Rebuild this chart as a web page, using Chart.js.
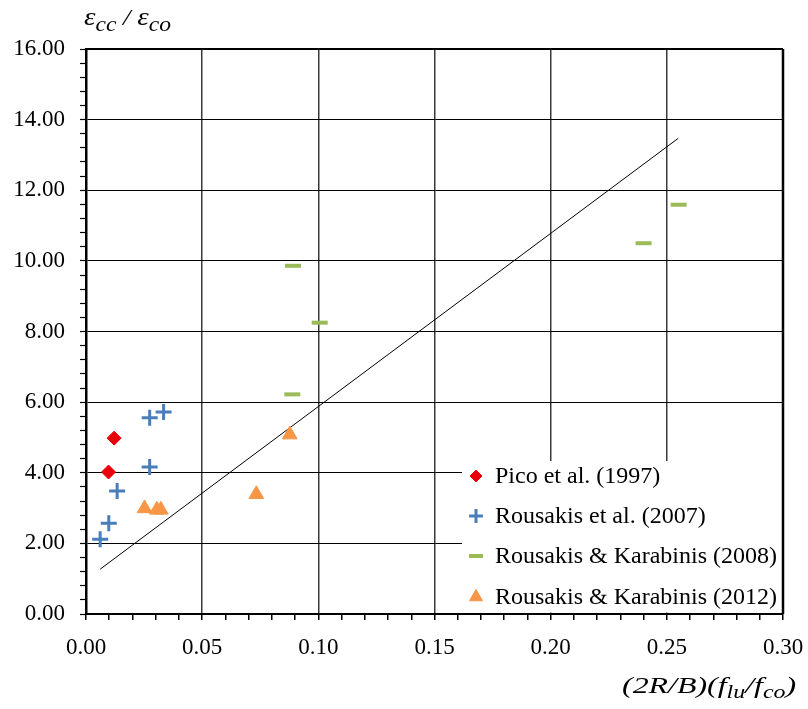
<!DOCTYPE html>
<html><head><meta charset="utf-8">
<script src="https://cdn.jsdelivr.net/npm/chart.js@4"></script>
<style>html,body{margin:0;padding:0;background:#fff;} canvas{display:block;}</style>
</head><body>
<canvas id="c" width="808" height="709"></canvas>
<script>
// ---- data ----
const picoX = [0.0097, 0.0121];
const picoY = [4.02, 4.98];
const rous07X = [0.0061, 0.0098, 0.0134, 0.0274, 0.0274, 0.0334];
const rous07Y = [2.12, 2.57, 3.48, 4.16, 5.56, 5.72];
const rk08X = [0.0888, 0.0891, 0.1006, 0.2400, 0.2551];
const rk08Y = [6.22, 9.86, 8.25, 10.50, 11.59];
const rk12X = [0.0252, 0.0305, 0.0322, 0.0733, 0.0877];
const rk12Y = [2.99, 2.95, 2.95, 3.39, 5.08];
const trendX = [0.0061, 0.2549];
const trendY = [1.27, 13.47];
const seriesNames = ['Pico et al. (1997)', 'Rousakis et al. (2007)', 'Rousakis & Karabinis (2008)', 'Rousakis & Karabinis (2012)'];
const xMin = 0, xMax = 0.30, xMajor = 0.05, xMinor = 0.01;
const yMin = 0, yMax = 16, yMajor = 2, yMinor = 0.4;

const pts = (xs, ys) => xs.map((x, i) => ({x: x, y: ys[i]}));
const FONT = "'Liberation Serif','Times New Roman',serif";

const styles = [
  {pointStyle: 'rectRot', radius: 7, color: '#E8000B', borderWidth: 1},
  {pointStyle: 'cross', radius: 8, color: '#4A7EBB', borderWidth: 3},
  {pointStyle: 'line', radius: 8, color: '#9BBB59', borderWidth: 4},
  {pointStyle: 'triangle', radius: 8.5, color: '#F79646', borderWidth: 1}
];
const seriesData = [pts(picoX, picoY), pts(rous07X, rous07Y), pts(rk08X, rk08Y), pts(rk12X, rk12Y)];

const datasets = seriesData.map((d, i) => ({
  label: seriesNames[i],
  data: d,
  pointStyle: styles[i].pointStyle,
  pointRadius: styles[i].radius,
  pointHoverRadius: styles[i].radius,
  pointBorderWidth: styles[i].borderWidth,
  borderColor: styles[i].color,
  backgroundColor: styles[i].color,
  showLine: false
}));
datasets.push({
  label: 'trend',
  data: pts(trendX, trendY),
  showLine: true,
  pointRadius: 0,
  borderColor: '#000',
  borderWidth: 1,
  fill: false
});

const isMajor = (v, step) => Math.abs(v / step - Math.round(v / step)) < 1e-6;

const decor = {
  id: 'decor',
  afterDatasetsDraw(chart) {
    const ctx = chart.ctx, a = chart.chartArea;
    ctx.save();
    // legend box
    const lx = 462, ly = 461;
    ctx.fillStyle = '#fff';
    ctx.fillRect(lx, ly, a.right - lx - 1, a.bottom - ly - 1.5);
    const rows = [476, 516, 556, 597];
    ctx.font = "24px " + FONT;
    ctx.textBaseline = 'middle';
    ctx.textAlign = 'left';
    const legR = [6, 7, 7, 7.5];
    rows.forEach((yy, i) => {
      const s = styles[i];
      ctx.fillStyle = s.color;
      ctx.strokeStyle = s.color;
      ctx.lineWidth = s.borderWidth;
      const opt = {pointStyle: s.pointStyle, radius: legR[i], rotation: 0, borderWidth: s.borderWidth};
      Chart.helpers.drawPoint(ctx, opt, 476, yy);
      ctx.fillStyle = '#000';
      ctx.fillText(seriesNames[i], 495, yy + 1);
    });
    // top and right borders
    ctx.strokeStyle = '#000';
    ctx.lineWidth = 2;
    ctx.beginPath();
    ctx.moveTo(a.left, a.top); ctx.lineTo(a.right, a.top);
    ctx.stroke();
    ctx.lineWidth = 2.5;
    ctx.beginPath();
    ctx.moveTo(a.right, a.top); ctx.lineTo(a.right, a.bottom);
    ctx.stroke();
    ctx.restore();
  },
  afterDraw(chart) {
    const ctx = chart.ctx;
    ctx.save();
    ctx.fillStyle = '#000';
    ctx.textBaseline = 'alphabetic';
    ctx.textAlign = 'left';
    function run(parts, x0, y0, sx) {
      ctx.save();
      ctx.translate(x0, y0);
      ctx.scale(sx, 1);
      let x = 0;
      parts.forEach(p => {
        ctx.font = 'italic ' + p.size + 'px ' + FONT;
        ctx.fillText(p.t, x, p.dy || 0);
        x += ctx.measureText(p.t).width + (p.gap || 0);
      });
      ctx.restore();
    }
    // y-axis title: εcc / εco
    run([
      {t: 'ε', size: 26},
      {t: 'cc', size: 21, dy: 6},
      {t: ' / ', size: 24},
      {t: 'ε', size: 26},
      {t: 'co', size: 21, dy: 6}
    ], 84, 25, 1.12);
    // x-axis title: (2R/B)(flu/fco)
    run([
      {t: '(2R/B)(', size: 24},
      {t: 'f', size: 24},
      {t: 'lu', size: 18, dy: 5},
      {t: '/', size: 24},
      {t: 'f', size: 24},
      {t: 'co', size: 18, dy: 5},
      {t: ')', size: 24}
    ], 622, 693, 1.33);
    ctx.restore();
  }
};

new Chart(document.getElementById('c'), {
  type: 'scatter',
  data: {datasets: datasets},
  options: {
    responsive: false,
    devicePixelRatio: 1,
    animation: false,
    layout: {padding: {top: 49, right: 25, left: 0, bottom: 0}},
    plugins: {legend: {display: false}, tooltip: {enabled: false}},
    scales: {
      x: {
        type: 'linear', min: xMin, max: xMax,
        afterFit(s) { s.height = 95; s.paddingLeft = 0; s.paddingRight = 0; },
        ticks: {
          stepSize: xMinor, autoSkip: false, maxRotation: 0, padding: 14,
          color: '#000', font: {family: FONT, size: 23},
          callback: v => isMajor(v, xMajor) ? v.toFixed(2) : ''
        },
        grid: {
          color: c => isMajor(c.tick.value, xMajor) ? '#3a3a3a' : 'rgba(0,0,0,0)',
          lineWidth: 1.5, tickColor: '#000', tickLength: 6, tickWidth: 1.5
        },
        border: {display: true, color: '#000', width: 2}
      },
      y: {
        type: 'linear', min: yMin, max: yMax,
        afterFit(s) { s.width = 86; s.paddingTop = 0; s.paddingBottom = 0; },
        ticks: {
          stepSize: yMinor, autoSkip: false, padding: 15,
          color: '#000', font: {family: FONT, size: 23},
          callback: v => isMajor(v, yMajor) ? v.toFixed(2) : ''
        },
        grid: {
          color: c => isMajor(c.tick.value, yMajor) ? '#000' : 'rgba(0,0,0,0)',
          lineWidth: 1, tickColor: '#000', tickLength: 6, tickWidth: 1.2
        },
        border: {display: true, color: '#000', width: 2.5}
      }
    }
  },
  plugins: [decor]
});
</script>
</body></html>
